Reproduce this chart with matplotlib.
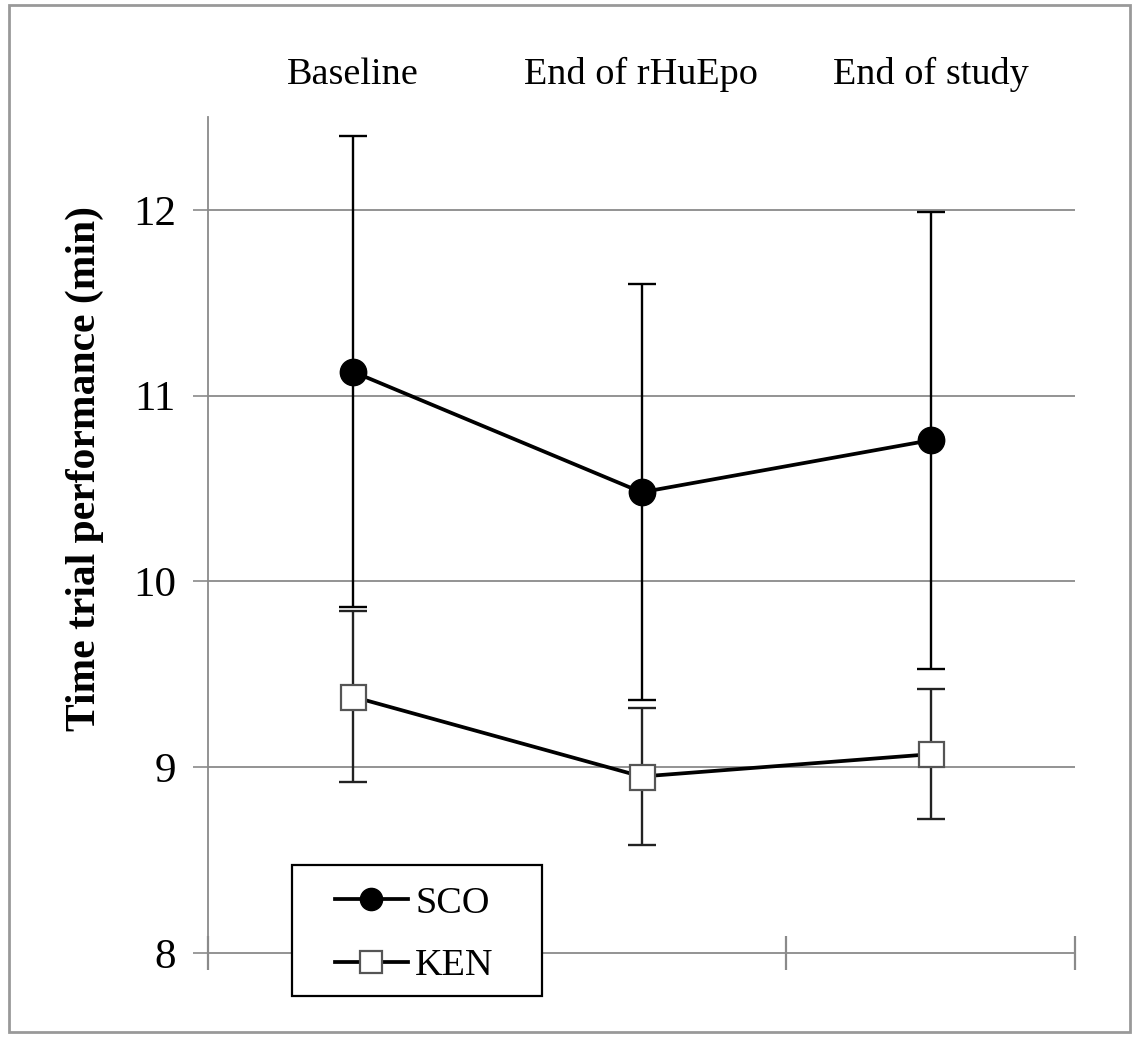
import matplotlib
matplotlib.use("Agg")
import matplotlib.pyplot as plt
from matplotlib.patches import Rectangle
import numpy as np

categories = ["Baseline", "End of rHuEpo", "End of study"]
sco_mean = [11.13, 10.48, 10.76]
sco_err = [1.27, 1.12, 1.23]
ken_mean = [9.38, 8.95, 9.07]
ken_err = [0.46, 0.37, 0.35]
y_ticks = [8, 9, 10, 11, 12]

plt.rcParams['font.family'] = ['Liberation Serif', 'DejaVu Serif']

fig = plt.figure(figsize=(11.38, 10.37), dpi=100)
ax = fig.add_axes([208/1138, 84/1037, (1075-208)/1138, (953-117)/1037])

x = np.arange(len(categories))
grey = '#8a8a8a'

ax.errorbar(x, sco_mean, yerr=sco_err, fmt='none', ecolor='black', elinewidth=1.7,
            capsize=10, capthick=1.7, zorder=3)
ax.errorbar(x, ken_mean, yerr=ken_err, fmt='none', ecolor='#222222', elinewidth=1.7,
            capsize=10, capthick=1.7, zorder=3)
ax.plot(x, sco_mean, '-o', color='black', lw=2.7, markersize=19,
        markerfacecolor='black', markeredgecolor='black', label='SCO', zorder=4)
ax.plot(x, ken_mean, '-s', color='black', lw=2.7, markersize=18,
        markerfacecolor='white', markeredgecolor='#555555', markeredgewidth=1.6,
        label='KEN', zorder=4)

ax.set_xlim(-0.5, len(categories) - 0.5)
ax.set_ylim(8, 12.5)
ax.set_yticks(y_ticks)
ax.set_yticklabels([str(v) for v in y_ticks], fontsize=31)
ax.tick_params(axis='y', length=11, width=1.2, color=grey, pad=12)
for v in y_ticks[1:]:
    ax.axhline(v, color=grey, lw=1.3, zorder=1)

ax.set_xticks(np.arange(len(categories) + 1) - 0.5)
ax.set_xticklabels([])
ax.tick_params(axis='x', direction='inout', length=24, width=1.6, color=grey)

for s in ['top', 'right']:
    ax.spines[s].set_visible(False)
ax.spines['left'].set_color(grey)
ax.spines['left'].set_linewidth(1.3)
ax.spines['bottom'].set_color(grey)
ax.spines['bottom'].set_linewidth(1.3)

sec = ax.secondary_xaxis('top')
sec.set_xticks(x)
sec.set_xticklabels(categories, fontsize=27.5)
sec.tick_params(length=0, pad=18)
sec.spines['top'].set_visible(False)

ax.set_ylabel('Time trial performance (min)', fontsize=30, fontweight='bold')
ax.yaxis.set_label_coords(-0.12, 0.58)

# legend box (frame drawn separately so it covers axis lines)
box = Rectangle((292/1138, (1037-996)/1037), 250/1138, 131/1037, transform=fig.transFigure,
                facecolor='white', edgecolor='black', lw=1.6, zorder=10, clip_on=False)
ax.add_patch(box)
leg = ax.legend(loc='upper left', bbox_to_anchor=(335/1138, (1037-886)/1037),
                bbox_transform=fig.transFigure, fontsize=27.5,
                frameon=False, handlelength=1.9, handletextpad=0.2,
                labelspacing=0.72, borderpad=0, borderaxespad=0)
leg.set_zorder(11)
for h in leg.legend_handles:
    h.set_markersize(16)

fig.patches.append(Rectangle((9/1138, 5/1037), 1121/1138, 1027/1037, transform=fig.transFigure,
                             fill=False, edgecolor='#999999', lw=2))

fig.savefig('out.png', dpi=100)
